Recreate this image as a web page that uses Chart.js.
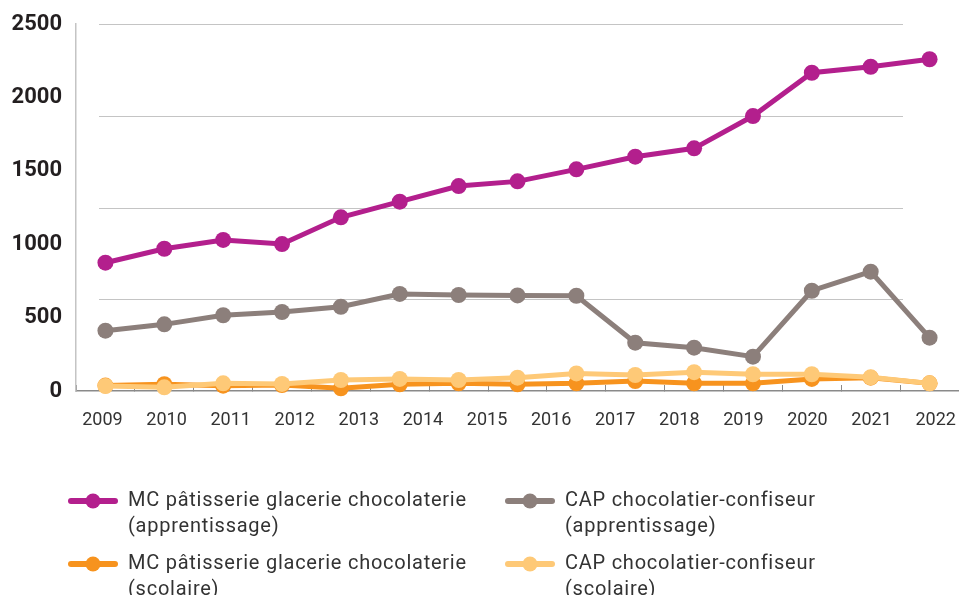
<!DOCTYPE html>
<html>
<head>
<meta charset="utf-8">
<script src="https://cdn.jsdelivr.net/npm/chart.js@4.4.1/dist/chart.umd.min.js"></script>
<style>
  html, body { margin: 0; padding: 0; background: #fff; }
  #wrap { position: relative; width: 959px; height: 595px; overflow: hidden; }
  #c { position: absolute; left: 0; top: 0; }
  .leg-item { position: absolute; }
  .leg-item svg { position: absolute; left: 0; top: 0; overflow: visible; }
  .leg-text {
    position: absolute; white-space: nowrap;
    font-family: Roboto, "DejaVu Sans", sans-serif; font-size: 20px; line-height: 26px;
    letter-spacing: 0.75px; color: #333;
  }
</style>
</head>
<body>
<div id="wrap">
  <canvas id="c" width="959" height="595"></canvas>
  <div id="legend"></div>
</div>
<script>
// Year labels printed under the axis
const years = [2009, 2010, 2011, 2012, 2013, 2014, 2015, 2016, 2017, 2018, 2019, 2020, 2021, 2022];
// Sampling points of the series (one per plotted marker)
const sessions = ['2008', '2009', '2010', '2011', '2012', '2013', '2014', '2015', '2016', '2017', '2018', '2019', '2020', '2021', '2022'];
// Value-axis labels
const yLabels = [0, 500, 1000, 1500, 2000, 2500];

// Enrolment per series
const mcApprentissage  = [874, 969, 1029, 1001, 1183, 1290, 1396, 1428, 1510, 1596, 1653, 1873, 2168, 2209, 2260];
const capApprentissage = [411, 454, 516, 538, 574, 661, 654, 651, 649, 329, 295, 234, 683, 813, 363];
const mcScolaire       = [37, 46, 36, 41, 18, 46, 52, 46, 52, 68, 52, 52, 82, 91, 52];
const capScolaire      = [34, 25, 52, 48, 75, 82, 75, 91, 120, 109, 128, 114, 114, 93, 52];

const series = [
  { name: ['MC pâtisserie glacerie chocolaterie', '(apprentissage)'], data: mcApprentissage, color: '#b31f8d', order: 1 },
  { name: ['CAP chocolatier-confiseur', '(apprentissage)'], data: capApprentissage, color: '#8c7f7b', order: 2 },
  { name: ['MC pâtisserie glacerie chocolaterie', '(scolaire)'], data: mcScolaire, color: '#f7931e', order: 4 },
  { name: ['CAP chocolatier-confiseur', '(scolaire)'], data: capScolaire, color: '#fec977', order: 3 }
];

// Light horizontal guide lines, inset from both ends of the plot
const insetGrid = {
  id: 'insetGrid',
  beforeDatasetsDraw(chart) {
    const { ctx, chartArea, scales } = chart;
    const y = scales.y;
    const step = (y.max - y.min) / 4;
    ctx.save();
    ctx.strokeStyle = '#c4c4c4';
    ctx.lineWidth = 1.2;
    for (let v = y.min + step; v <= y.max + 1e-6; v += step) {
      const py = Math.round(y.getPixelForValue(v)) + 0.5;
      ctx.beginPath();
      ctx.moveTo(chartArea.left + 23, py);
      ctx.lineTo(chartArea.right - 56, py);
      ctx.stroke();
    }
    ctx.restore();
  }
};

new Chart(document.getElementById('c'), {
  type: 'line',
  data: {
    labels: sessions,
    datasets: series.map(s => ({
      label: s.name.join(' '),
      data: s.data,
      borderColor: s.color,
      backgroundColor: s.color,
      pointBackgroundColor: s.color,
      pointBorderWidth: 0,
      pointRadius: 8,
      pointHoverRadius: 8,
      borderWidth: 5,
      tension: 0,
      order: s.order,
      clip: false
    }))
  },
  options: {
    responsive: false,
    animation: false,
    devicePixelRatio: 1,
    layout: { autoPadding: false, padding: { top: 24, left: 0, right: 0, bottom: 0 } },
    plugins: { legend: { display: false }, tooltip: { enabled: false } },
    scales: {
      x: {
        type: 'category',
        position: 'bottom',
        offset: true,
        weight: 0,
        grid: { display: true, offset: true, drawOnChartArea: false, drawTicks: true, tickLength: -6, color: '#8a8a8a', lineWidth: 1 },
        border: { display: true, color: '#8a8a8a', width: 1.5 },
        ticks: { display: false },
        afterFit(scale) { scale.height = 0; scale.paddingLeft = 0; scale.paddingRight = 0; }
      },
      years: {
        type: 'linear',
        position: 'bottom',
        weight: 1,
        min: 2008.587,
        max: 2022.364,
        grid: { display: false, drawTicks: false },
        border: { display: false },
        afterBuildTicks(scale) { scale.ticks = years.map(v => ({ value: v })); },
        ticks: {
          padding: 19,
          maxRotation: 0,
          autoSkip: false,
          color: '#333',
          font: { family: 'Roboto', size: 18 },
          callback: v => String(v)
        },
        afterFit(scale) { scale.height = 204; scale.paddingLeft = 0; scale.paddingRight = 0; }
      },
      y: {
        type: 'linear',
        position: 'left',
        min: 0,
        max: 2500,
        grid: { display: false, drawTicks: false },
        border: { display: true, color: '#c4c4c4', width: 1.5 },
        afterBuildTicks(scale) { scale.ticks = yLabels.map(v => ({ value: v })); },
        ticks: {
          padding: 14,
          color: '#231f20',
          font: { family: 'Roboto', size: 22, weight: 'bold' },
          callback: v => String(v)
        },
        afterFit(scale) { scale.width = 76; scale.paddingTop = 0; scale.paddingBottom = 0; }
      }
    }
  },
  plugins: [insetGrid]
});

// Legend: two columns, two rows, line-and-dot swatches
const legend = document.getElementById('legend');
const colX = [69, 506];
const rowY = [501, 564];
series.forEach((s, i) => {
  const col = i % 2, row = Math.floor(i / 2);
  const item = document.createElement('div');
  item.className = 'leg-item';
  item.style.left = colX[col] + 'px';
  item.style.top = rowY[row] + 'px';
  item.innerHTML =
    '<svg width="48" height="1">' +
    '<line x1="2" y1="0" x2="46" y2="0" stroke="' + s.color + '" stroke-width="6" stroke-linecap="round"/>' +
    '<circle cx="24" cy="0" r="7.5" fill="' + s.color + '"/></svg>';
  const txt = document.createElement('div');
  txt.className = 'leg-text';
  txt.style.left = '59px';
  txt.style.top = '-15px';
  txt.innerHTML = s.name.join('<br>');
  item.appendChild(txt);
  legend.appendChild(item);
});
</script>
</body>
</html>
